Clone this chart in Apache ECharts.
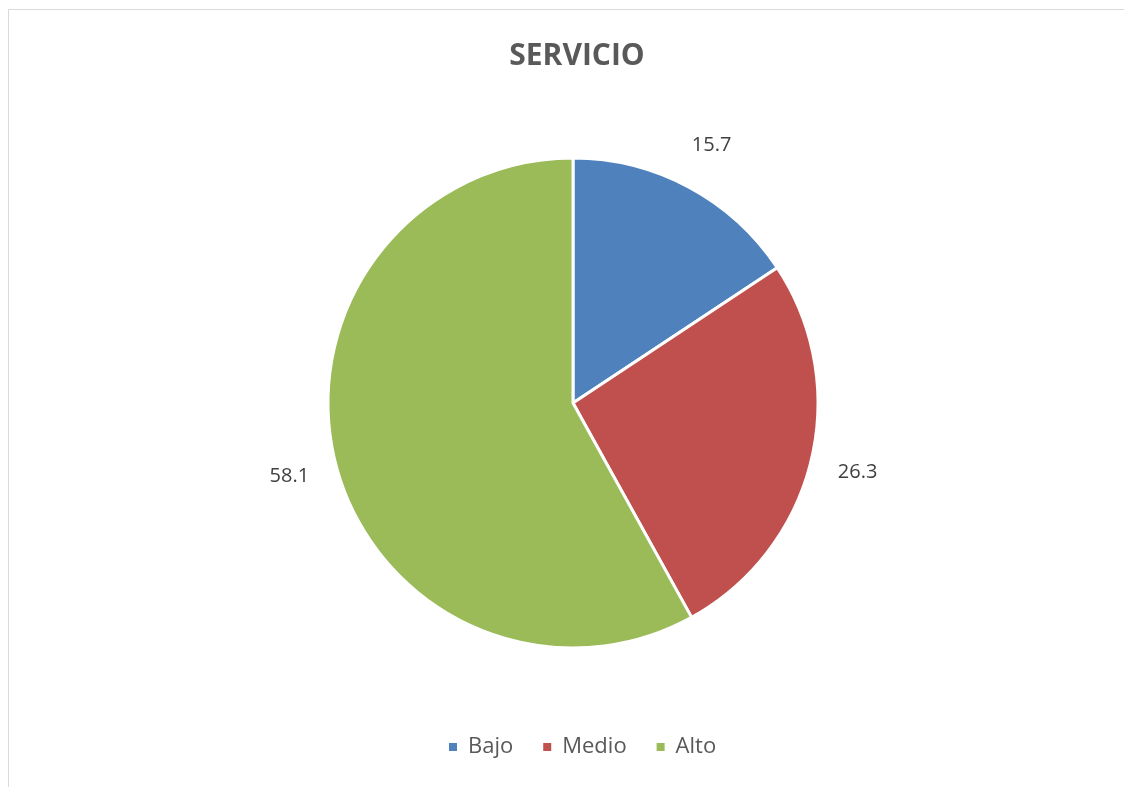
<!DOCTYPE html>
<html>
<head>
<meta charset="utf-8">
<script src="https://cdn.jsdelivr.net/npm/echarts@6/dist/echarts.min.js"></script>
<style>
  html, body { margin: 0; padding: 0; background: #fff; }
  #main { width: 1124px; height: 787px; }
</style>
</head>
<body>
<div id="main"></div>
<script>
var categories = ['Bajo', 'Medio', 'Alto'];
var values = [15.7, 26.3, 58.1];
var colors = ['#4F81BD', '#C0504D', '#9BBB59'];

var pieData = categories.map(function (name, i) {
    return { name: name, value: values[i] };
});

var myChart = echarts.init(document.getElementById('main'));
var option = {
    backgroundColor: '#fff',
    color: colors,
    textStyle: { fontFamily: 'Open Sans, Noto Sans, sans-serif' },
    title: {
        text: 'SERVICIO',
        left: 572,
        textAlign: 'center',
        top: 36,
        textStyle: { fontSize: 30, fontWeight: 'bold', color: '#595959', fontFamily: 'Open Sans, sans-serif' }
    },
    legend: {
        data: categories,
        bottom: 24,
        left: 442,
        itemWidth: 10,
        itemHeight: 10,
        itemGap: 28,
        icon: 'rect',
        textStyle: { fontSize: 22, color: '#595959', padding: [0, 0, 0, 5] }
    },
    graphic: [{
        type: 'rect',
        shape: { x: 8.5, y: 9.5, width: 1200, height: 900 },
        style: { fill: 'none', stroke: '#d9d9d9', lineWidth: 1 },
        silent: true
    }],
    series: [
        {
            name: 'Servicio',
            type: 'pie',
            center: [573, 403],
            radius: 245,
            startAngle: 90,
            clockwise: true,
            label: { show: false },
            labelLine: { show: false },
            itemStyle: { borderColor: '#fff', borderWidth: 3 },
            emphasis: { disabled: true },
            data: pieData
        },
        {
            // invisible ring carrying the data labels just outside the pie
            name: 'labels',
            type: 'pie',
            center: [573, 403],
            radius: [270, 310],
            startAngle: 90,
            clockwise: true,
            silent: true,
            itemStyle: { color: 'rgba(0,0,0,0)' },
            label: {
                show: true,
                position: 'inside',
                formatter: '{c}',
                fontSize: 20,
                color: '#404040'
            },
            labelLine: { show: false },
            emphasis: { disabled: true },
            data: pieData
        }
    ]
};
myChart.setOption(option);
</script>
</body>
</html>
